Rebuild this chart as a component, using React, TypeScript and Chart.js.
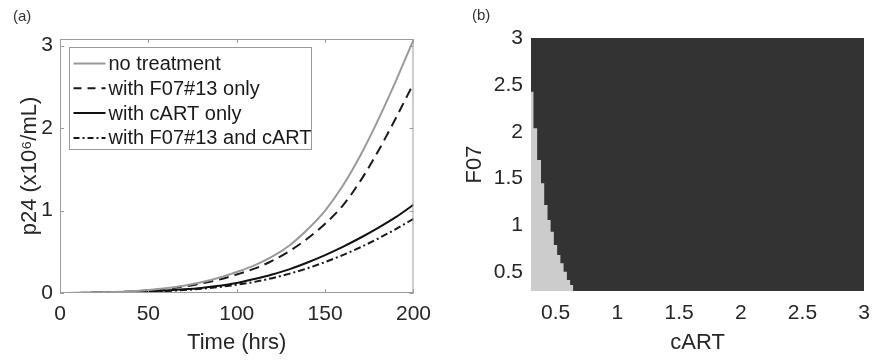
import React, { useEffect, useRef } from 'react';
import { Chart, registerables } from 'chart.js';

Chart.register(...registerables);

// ---------- Panel (a) data ----------
const timeHrs = [0, 10, 20, 30, 40, 50, 60, 70, 80, 90, 100, 110, 120, 130, 140, 150, 160, 170, 180, 190, 200];
const noTreatment = [0, 0.002, 0.006, 0.012, 0.022, 0.037, 0.058, 0.088, 0.13, 0.185, 0.255, 0.335, 0.44, 0.58, 0.77, 1.0, 1.3, 1.67, 2.1, 2.57, 3.07];
const f07Only = [0, 0.001, 0.004, 0.01, 0.019, 0.032, 0.051, 0.078, 0.115, 0.162, 0.225, 0.295, 0.39, 0.51, 0.66, 0.84, 1.06, 1.36, 1.72, 2.12, 2.54];
const cartOnly = [0, 0.001, 0.003, 0.006, 0.011, 0.019, 0.03, 0.044, 0.062, 0.087, 0.12, 0.17, 0.225, 0.29, 0.37, 0.46, 0.56, 0.67, 0.79, 0.92, 1.07];
const f07AndCart = [0, 0.001, 0.002, 0.005, 0.009, 0.016, 0.025, 0.036, 0.051, 0.072, 0.1, 0.135, 0.18, 0.235, 0.3, 0.375, 0.46, 0.555, 0.66, 0.775, 0.9];
const seriesLabels = ['no treatment', 'with F07#13 only', 'with cART only', 'with F07#13 and cART'];
const timeTicks = [0, 50, 100, 150, 200];
const p24Ticks = [0, 1, 2, 3];

// ---------- Panel (b) data ----------
const cartBoundary = [0.3, 0.32, 0.35, 0.381, 0.407, 0.434, 0.459, 0.485, 0.512, 0.538, 0.564, 0.591, 0.617, 0.643];
const f07Boundary = [2.427, 2.036, 1.698, 1.449, 1.218, 1.058, 0.933, 0.791, 0.684, 0.596, 0.506, 0.417, 0.364, 0.3];
const cartRange = [0.3, 3];
const f07Range = [0.3, 3];
const cartTicks = [0.5, 1, 1.5, 2, 2.5, 3];
const f07Ticks = [0.5, 1, 1.5, 2, 2.5, 3];

const FONT = '"Liberation Sans", Arial, sans-serif';
const TEXT = '#262626';

const frameLegendPlugin = {
  id: 'frameLegend',
  afterDatasetsDraw(chart: any) {
    const { ctx, chartArea, scales } = chart;
    const { left, right, top, bottom } = chartArea;
    ctx.save();
    // legend
    const lx = left + 9.5;
    const ly = top + 8.5;
    const lw = 242;
    const lh = 102;
    ctx.fillStyle = '#ffffff';
    ctx.fillRect(lx, ly, lw, lh);
    ctx.strokeStyle = '#9a9a9a';
    ctx.lineWidth = 1;
    ctx.setLineDash([]);
    ctx.strokeRect(lx, ly, lw, lh);
    chart.data.datasets.forEach((ds: any, i: number) => {
      const cy = ly + 16 + i * 24.8;
      ctx.beginPath();
      ctx.setLineDash(ds.legendDash || []);
      ctx.strokeStyle = ds.borderColor;
      ctx.lineWidth = ds.borderWidth;
      ctx.moveTo(lx + 4, cy);
      ctx.lineTo(lx + 36, cy);
      ctx.stroke();
      ctx.setLineDash([]);
      ctx.fillStyle = '#1a1a1a';
      ctx.font = '20px ' + FONT;
      ctx.textBaseline = 'middle';
      ctx.textAlign = 'left';
      ctx.fillText(ds.label, lx + 39, cy + 1);
    });
    // frame
    ctx.strokeStyle = '#9c9c9c';
    ctx.lineWidth = 1;
    ctx.strokeRect(left + 0.5, top + 0.5, right - left - 1, bottom - top - 1);
    // inward ticks
    const tl = 4;
    ctx.beginPath();
    scales.x.ticks.forEach((t: any) => {
      const px = Math.round(scales.x.getPixelForValue(t.value)) + 0.5;
      ctx.moveTo(px, bottom);
      ctx.lineTo(px, bottom - tl);
      ctx.moveTo(px, top);
      ctx.lineTo(px, top + tl);
    });
    scales.y.ticks.forEach((t: any) => {
      const py = Math.round(scales.y.getPixelForValue(t.value)) + 0.5;
      ctx.moveTo(left, py);
      ctx.lineTo(left + tl, py);
      ctx.moveTo(right, py);
      ctx.lineTo(right - tl, py);
    });
    ctx.stroke();
    ctx.restore();
  },
};

function series(values: number[]) {
  return timeHrs.map((t, i) => ({ x: t, y: values[i] }));
}

const fmt = (v: any) => String(+Number(v).toFixed(2));

function LeftChart() {
  const ref = useRef<HTMLCanvasElement>(null);
  useEffect(() => {
    const styles = [
      { color: '#9a9a9a', dash: [] as number[], legendDash: [] as number[] },
      { color: '#1a1a1a', dash: [10, 6], legendDash: [8, 6] },
      { color: '#111111', dash: [] as number[], legendDash: [] as number[] },
      { color: '#1a1a1a', dash: [7, 3, 2, 3], legendDash: [6, 3, 2, 3] },
    ];
    const values = [noTreatment, f07Only, cartOnly, f07AndCart];
    const chart = new Chart(ref.current!, {
      type: 'line',
      data: {
        datasets: values.map((v, i) => ({
          label: seriesLabels[i],
          data: series(v),
          borderColor: styles[i].color,
          borderDash: styles[i].dash,
          legendDash: styles[i].legendDash,
          borderWidth: 2,
          pointRadius: 0,
          cubicInterpolationMode: 'monotone',
          fill: false,
        })) as any,
      },
      options: {
        responsive: false,
        animation: false,
        devicePixelRatio: 1,
        layout: { padding: { left: 0, right: 25, top: 39, bottom: 0 } },
        plugins: { legend: { display: false }, tooltip: { enabled: false } },
        scales: {
          x: {
            type: 'linear',
            min: 0,
            max: 200,
            afterBuildTicks: (s: any) => {
              s.ticks = timeTicks.map((v) => ({ value: v }));
            },
            afterFit: (s: any) => {
              s.height = 70;
            },
            grid: { display: false, drawTicks: false },
            border: { display: false },
            ticks: { padding: 9, color: TEXT, font: { family: FONT, size: 21, lineHeight: 1.2 }, maxRotation: 0, callback: fmt },
            title: { display: true, text: 'Time (hrs)', color: TEXT, font: { family: FONT, size: 22, lineHeight: 1.2 }, padding: { top: 0, bottom: 7 } },
          },
          y: {
            type: 'linear',
            min: 0,
            max: 3.08,
            afterBuildTicks: (s: any) => {
              s.ticks = p24Ticks.map((v) => ({ value: v }));
            },
            afterFit: (s: any) => {
              s.width = 60;
            },
            grid: { display: false, drawTicks: false },
            border: { display: false },
            ticks: { padding: 7, color: TEXT, font: { family: FONT, size: 21, lineHeight: 1.2 }, callback: fmt },
            title: { display: true, text: 'p24 (x10⁶/mL)', color: TEXT, font: { family: FONT, size: 22, lineHeight: 1.2 }, padding: { top: 17, bottom: 0 } },
          },
        },
      } as any,
      plugins: [frameLegendPlugin],
    });
    return () => chart.destroy();
  }, []);
  return <canvas ref={ref} width={440} height={363} style={{ display: 'block' }} />;
}

function RightChart() {
  const ref = useRef<HTMLCanvasElement>(null);
  useEffect(() => {
    const chart = new Chart(ref.current!, {
      type: 'line',
      data: {
        datasets: [
          {
            label: 'light',
            data: cartBoundary.map((c, i) => ({ x: c, y: f07Boundary[i] })),
            stepped: 'before',
            fill: 'start',
            backgroundColor: '#cccccc',
            borderColor: 'rgba(0,0,0,0)',
            borderWidth: 0,
            pointRadius: 0,
          },
          {
            label: 'dark',
            data: cartRange.map((c) => ({ x: c, y: f07Range[1] })),
            fill: 'start',
            backgroundColor: '#333333',
            borderColor: 'rgba(0,0,0,0)',
            borderWidth: 0,
            pointRadius: 0,
          },
        ] as any,
      },
      options: {
        responsive: false,
        animation: false,
        devicePixelRatio: 1,
        layout: { padding: { left: 0, right: 6, top: 38, bottom: 0 } },
        plugins: { legend: { display: false }, tooltip: { enabled: false } },
        scales: {
          x: {
            type: 'linear',
            min: cartRange[0],
            max: cartRange[1],
            afterBuildTicks: (s: any) => {
              s.ticks = cartTicks.map((v) => ({ value: v }));
            },
            afterFit: (s: any) => {
              s.height = 72;
            },
            grid: { display: false, drawTicks: false },
            border: { display: false },
            ticks: { padding: 10, color: TEXT, font: { family: FONT, size: 21, lineHeight: 1.2 }, maxRotation: 0, callback: fmt },
            title: { display: true, text: 'cART', color: TEXT, font: { family: FONT, size: 22, lineHeight: 1.2 }, padding: { top: 0, bottom: 7 } },
          },
          y: {
            type: 'linear',
            min: f07Range[0],
            max: f07Range[1],
            afterBuildTicks: (s: any) => {
              s.ticks = f07Ticks.map((v) => ({ value: v }));
            },
            afterFit: (s: any) => {
              s.width = 91;
            },
            grid: { display: false, drawTicks: false },
            border: { display: false },
            ticks: { padding: 8, color: TEXT, font: { family: FONT, size: 21, lineHeight: 1.2 }, callback: fmt },
            title: { display: true, text: 'F07', color: TEXT, font: { family: FONT, size: 22, lineHeight: 1.2 }, padding: { top: 22, bottom: 0 } },
          },
        },
      } as any,
    });
    return () => chart.destroy();
  }, []);
  return <canvas ref={ref} width={440} height={363} style={{ display: 'block' }} />;
}

export default function App() {
  const labelStyle: React.CSSProperties = {
    position: 'absolute',
    fontFamily: FONT,
    fontSize: 15,
    color: '#333',
    lineHeight: '17px',
  };
  return (
    <div style={{ position: 'fixed', left: 0, top: 0, width: 880, height: 363, background: '#fff', overflow: 'hidden' }}>
      <div style={{ position: 'absolute', left: 0, top: 0, width: 440, height: 363 }}>
        <LeftChart />
      </div>
      <div style={{ position: 'absolute', left: 440, top: 0, width: 440, height: 363 }}>
        <RightChart />
      </div>
      <div style={{ ...labelStyle, left: 13, top: 7 }}>(a)</div>
      <div style={{ ...labelStyle, left: 472, top: 6 }}>(b)</div>
    </div>
  );
}
